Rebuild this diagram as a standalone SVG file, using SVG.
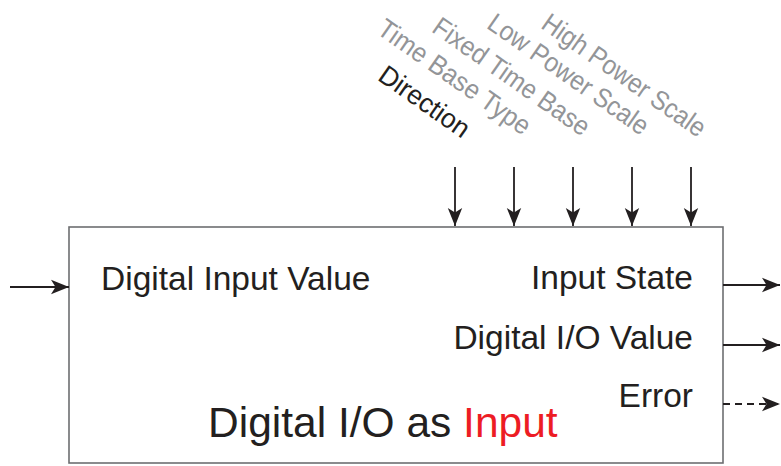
<svg xmlns="http://www.w3.org/2000/svg" width="781" height="466" viewBox="0 0 781 466">
<defs>
<style>
.t{font-family:"Liberation Sans",Arial,sans-serif;fill:#231f20}
.lbl{font-size:33.5px}
.rot{font-size:27px;fill:#939598}
.ln{stroke:#231f20;stroke-width:1.8;fill:none}
</style>
<marker id="ah" viewBox="0 0 18 16" refX="18" refY="8" markerWidth="18" markerHeight="16" markerUnits="userSpaceOnUse" orient="auto">
<path d="M0,0.8 L18,8 L0,15.2 L4.5,8 Z" fill="#231f20"/>
</marker>
</defs>
<rect width="781" height="466" fill="#fff"/>
<g id="block">
<rect x="69" y="227" width="654" height="236" fill="#fff" stroke="#6d6e71" stroke-width="1.6"/>
<text class="t lbl" x="101" y="290">Digital Input Value</text>
<text class="t lbl" x="693" y="289" text-anchor="end">Input State</text>
<text class="t lbl" x="693" y="349" text-anchor="end">Digital I/O Value</text>
<text class="t lbl" x="693" y="407" text-anchor="end">Error</text>
<text class="t" x="208" y="437" font-size="42.5">Digital I/O as <tspan fill="#ed1c24">Input</tspan></text>
</g>
<g id="inputs-labels">
<text class="t rot" style="fill:#231f20" text-anchor="end" transform="translate(462,139) rotate(35) scale(0.98,1)">Direction</text>
<text class="t rot" text-anchor="end" transform="translate(523,136) rotate(35) scale(0.93,1)">Time Base Type</text>
<text class="t rot" text-anchor="end" transform="translate(582,137) rotate(35) scale(0.92,1)">Fixed Time Base</text>
<text class="t rot" text-anchor="end" transform="translate(641,136) rotate(35) scale(0.91,1)">Low Power Scale</text>
<text class="t rot" text-anchor="end" transform="translate(698,138) rotate(35) scale(0.9,1)">High Power Scale</text>
</g>
<g id="connectors">
<line class="ln" x1="455" y1="167" x2="455" y2="226" marker-end="url(#ah)"/>
<line class="ln" x1="514" y1="167" x2="514" y2="226" marker-end="url(#ah)"/>
<line class="ln" x1="573" y1="167" x2="573" y2="226" marker-end="url(#ah)"/>
<line class="ln" x1="632" y1="167" x2="632" y2="226" marker-end="url(#ah)"/>
<line class="ln" x1="691" y1="167" x2="691" y2="226" marker-end="url(#ah)"/>
<line class="ln" x1="10" y1="287" x2="69" y2="287" marker-end="url(#ah)"/>
<line class="ln" x1="723" y1="285" x2="780" y2="285" marker-end="url(#ah)"/>
<line class="ln" x1="723" y1="345" x2="780" y2="345" marker-end="url(#ah)"/>
<line class="ln" x1="723" y1="404" x2="780" y2="404" stroke-dasharray="7,5" marker-end="url(#ah)"/>
</g>
</svg>
